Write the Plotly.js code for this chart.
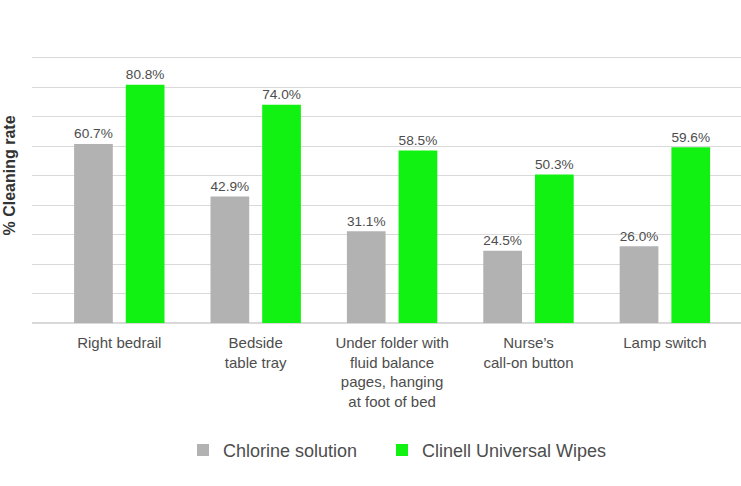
<!DOCTYPE html>
<html>
<head>
<meta charset="utf-8">
<script src="https://cdn.plot.ly/plotly-3.0.1.min.js"></script>
<style>html,body{margin:0;padding:0;background:#fff;}#chart{width:741px;height:486px;}</style>
</head>
<body>
<div id="chart"></div>
<script>
var categories = [
  "Right bedrail",
  "Bedside<br>table tray",
  "Under folder with<br>fluid balance<br>pages, hanging<br>at foot of bed",
  "Nurse\u2019s<br>call-on button",
  "Lamp switch"
];
var seriesNames = ["Chlorine solution", "Clinell Universal Wipes"];
var chlorine = [60.7, 42.9, 31.1, 24.5, 26.0];
var clinell = [80.8, 74.0, 58.5, 50.3, 59.6];
var yTitle = "% Cleaning rate";

var FAM = "Liberation Sans, Arial, sans-serif";
var TXT = "#4d4d4d";
var labelFont = {family: FAM, size: 16, color: TXT};

function mk(name, vals, color, legendId) {
  return {
    type: "bar",
    name: name,
    x: categories,
    y: vals,
    marker: {color: color},
    text: vals.map(function(v){ return v.toFixed(1) + "%"; }),
    textposition: "outside",
    textfont: labelFont,
    cliponaxis: false,
    hoverinfo: "skip",
    legend: legendId
  };
}

var data = [
  mk(seriesNames[0], chlorine, "#b2b2b2", "legend"),
  mk(seriesNames[1], clinell, "#12f212", "legend2")
];

var legY = (322.7 - 450) / 295;
var legendBase = {
  orientation: "h",
  xanchor: "left",
  y: legY,
  yanchor: "middle",
  font: {family: FAM, size: 18, color: TXT},
  bgcolor: "rgba(0,0,0,0)"
};

var layout = {
  width: 741,
  height: 486,
  margin: {l: 32, r: 0, t: 28, b: 163, pad: 0},
  paper_bgcolor: "#ffffff",
  plot_bgcolor: "#ffffff",
  font: {family: FAM, color: TXT},
  barmode: "group",
  bargap: 0.242,
  bargroupgap: 0.251,
  showlegend: true,
  legend: Object.assign({}, legendBase, {x: (183 - 32) / 709}),
  legend2: Object.assign({}, legendBase, {x: (382 - 32) / 709}),
  xaxis: {
    type: "category",
    range: [-0.64, 4.558],
    showgrid: false,
    showline: false,
    zeroline: false,
    ticks: "",
    ticklabelstandoff: 9,
    tickfont: {family: FAM, size: 15, color: TXT},
    fixedrange: true
  },
  yaxis: {
    range: [0, 100],
    dtick: 10,
    showticklabels: false,
    showgrid: true,
    gridcolor: "#d9d9d9",
    gridwidth: 1,
    zeroline: true,
    zerolinecolor: "#d9d9d9",
    zerolinewidth: 1.5,
    ticks: "",
    fixedrange: true
  },
  annotations: [{
    text: "<b>" + yTitle + "</b>",
    xref: "paper", yref: "paper",
    x: (9 - 32) / 709, y: 0.5,
    xanchor: "center", yanchor: "middle",
    textangle: -90,
    showarrow: false,
    font: {family: FAM, size: 16, color: "#333333"}
  }]
};

Plotly.newPlot("chart", data, layout, {staticPlot: true, displayModeBar: false});
</script>
</body>
</html>
